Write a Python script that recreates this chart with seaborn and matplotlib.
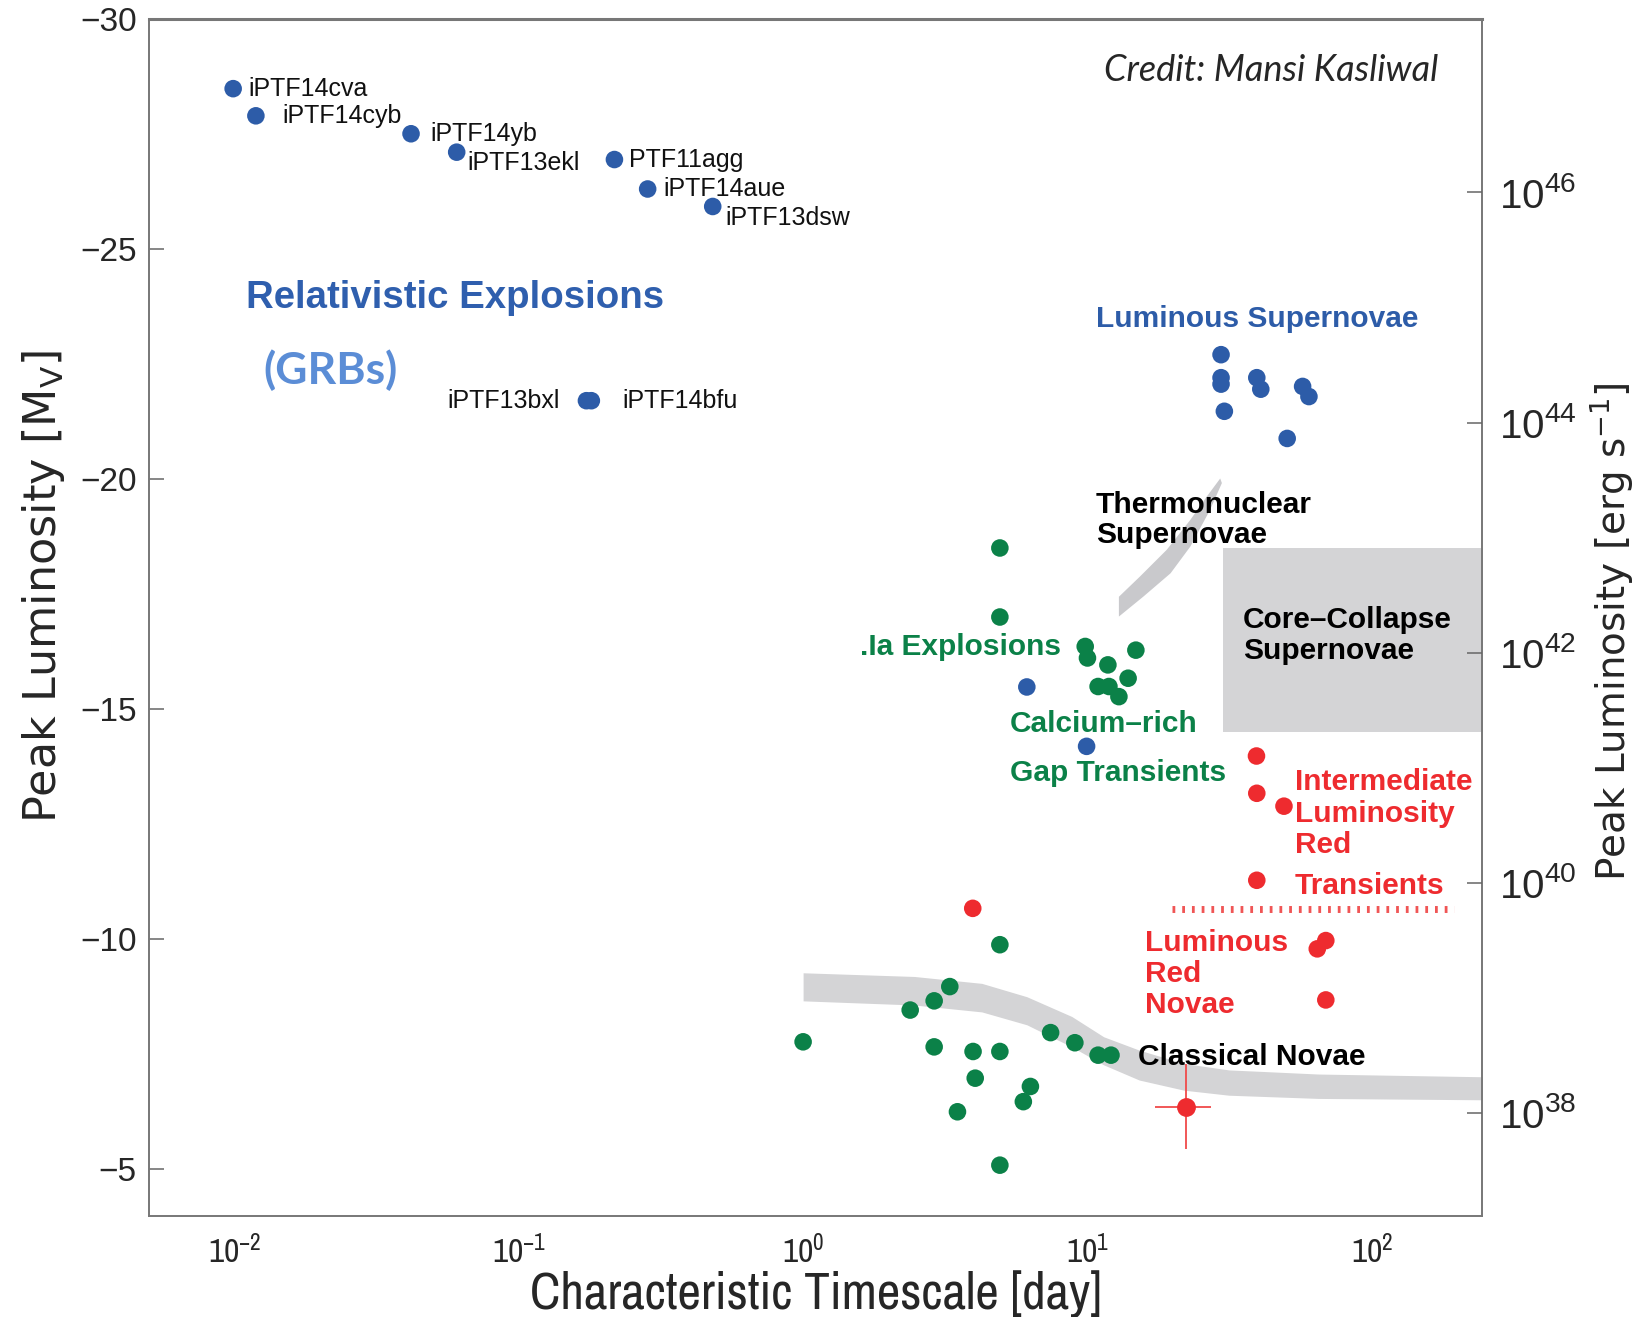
import numpy as np
import pandas as pd
import matplotlib
matplotlib.use("Agg")
import matplotlib.pyplot as plt
import seaborn as sns
from matplotlib.ticker import FixedLocator, NullLocator, FuncFormatter

# ---- values (timescale in days, peak abs. mag M_V) ----
grb_names = ["iPTF14cva", "iPTF14cyb", "iPTF14yb", "iPTF13ekl", "PTF11agg",
             "iPTF14aue", "iPTF13dsw", "iPTF13bxl", "iPTF14bfu"]
grb_t = [0.0099, 0.0119, 0.0418, 0.0605, 0.217, 0.284, 0.481, 0.173, 0.180]
grb_m = [-28.48, -27.89, -27.50, -27.10, -26.94, -26.30, -25.92, -21.70, -21.70]

slsn_t = [29.5, 29.5, 29.5, 30.3, 39.4, 40.7, 57.1, 60.1, 50.4]
slsn_m = [-22.70, -22.20, -22.06, -21.47, -22.20, -21.95, -22.01, -21.79, -20.88]

ca_blue_t = [6.12, 9.93]
ca_blue_m = [-15.48, -14.19]

green_t = [4.92, 4.92, 9.82, 10.0, 11.8, 14.8, 13.9, 10.9, 11.9, 12.9,
           4.92, 1.00, 2.38, 2.89, 3.28, 2.89, 3.96, 4.92, 4.03, 3.49,
           6.30, 5.95, 7.42, 9.03, 10.9, 12.1, 4.92]
green_m = [-18.50, -17.00, -16.36, -16.11, -15.96, -16.28, -15.67, -15.49, -15.49, -15.27,
           -9.88, -7.77, -8.46, -8.66, -8.97, -7.66, -7.56, -7.56, -6.98, -6.25,
           -6.80, -6.47, -7.97, -7.75, -7.48, -7.48, -5.09]

red_t = [39.3, 39.4, 49.1, 39.4, 3.95, 68.9, 64.3, 68.9]
red_m = [-13.98, -13.17, -12.89, -11.28, -10.67, -9.97, -9.79, -8.68]

# classical nova with error bars
nova_t, nova_m = 22.3, -6.36
nova_terr, nova_merr = 5.0, 0.92

# ILRT / LRN separator
sep_t = [19.8, 194]
sep_m = -10.65

# grey regions
ccsn_t = [30, 300]
ccsn_m = [-18.5, -14.5]

ia_up_t = [12.9, 15.3, 19.0, 23.0, 26.3, 29.3]
ia_up_m = [-17.44, -17.88, -18.46, -19.11, -19.62, -20.01]
ia_lo_t = [12.9, 15.7, 19.6, 23.0, 27.0, 29.7]
ia_lo_m = [-17.01, -17.44, -17.95, -18.53, -19.33, -19.91]

cn_t = [1.0, 2.46, 4.25, 6.12, 8.81, 11.4, 15.2, 21.8, 31.4, 64.9, 250]
cn_top = [-9.27, -9.19, -9.04, -8.75, -8.32, -7.88, -7.59, -7.30, -7.16, -7.07, -7.01]
cn_bot = [-8.66, -8.57, -8.42, -8.14, -7.66, -7.27, -6.94, -6.72, -6.61, -6.54, -6.51]

lum_ticks = [1e38, 1e40, 1e42, 1e44, 1e46]

BLUE = "#2d5ca8"
GREEN = "#0b8148"
RED = "#ee2b2f"
GREY = "#d4d4d6"
NARROW = ["Archivo Narrow", "Liberation Sans", "DejaVu Sans"]

sns.set_style("white")
plt.rcParams["font.family"] = ["Liberation Sans", "DejaVu Sans"]
plt.rcParams["mathtext.default"] = "regular"


def mag_to_lum(m):
    return 10 ** (35.51 - 0.4 * np.asarray(m))


pts = pd.DataFrame({
    "t": grb_t + slsn_t + ca_blue_t + green_t + red_t,
    "M": grb_m + slsn_m + ca_blue_m + green_m + red_m,
    "grp": (["blue"] * (len(grb_t) + len(slsn_t) + len(ca_blue_t))
            + ["green"] * len(green_t) + ["red"] * len(red_t)),
})

fig = plt.figure(figsize=(16.37, 13.17), dpi=100)
ax = fig.add_axes([0.0912, 0.0765, 0.8144, 0.9093])

# grey background regions
ax.fill_between(ccsn_t, ccsn_m[0], ccsn_m[1], color=GREY, lw=0, zorder=1)
ax.fill(ia_up_t + ia_lo_t[::-1], ia_up_m + ia_lo_m[::-1], color="#c9c9cc", lw=0, zorder=1)
ax.fill_between(cn_t, cn_top, cn_bot, color=GREY, lw=0, zorder=1)

ax.plot(sep_t, [sep_m, sep_m], color="#f05555", lw=5, dashes=(0.4, 1.0),
        dash_capstyle="butt", zorder=2)

sns.scatterplot(data=pts, x="t", y="M", hue="grp",
                palette={"blue": BLUE, "green": GREEN, "red": RED},
                s=160, linewidth=0, legend=False, ax=ax, zorder=4)

ax.errorbar(nova_t, nova_m, xerr=nova_terr, yerr=nova_merr, fmt="o", ms=12.5,
            color=RED, mec=RED, ecolor="#f04a4a", elinewidth=1.3, capsize=0, zorder=4)

# GRB names
offsets = {"iPTF14cva": (11, 0), "iPTF14cyb": (19, 0), "iPTF14yb": (14, 0),
           "iPTF13ekl": (8, -7.5), "PTF11agg": (10.5, 0), "iPTF14aue": (11, 0),
           "iPTF13dsw": (9, -8.5), "iPTF13bxl": (-19, 0), "iPTF14bfu": (22, 0)}
for name, t, m in zip(grb_names, grb_t, grb_m):
    dx, dy = offsets[name]
    ax.annotate(name, (t, m), xytext=(dx, dy), textcoords="offset points",
                ha="right" if dx < 0 else "left", va="center", fontsize=18,
                color="#111111", zorder=5)

bold = dict(fontweight="bold", fontsize=21.5, zorder=5)
ax.text(0.011, -23.94, "Relativistic Explosions", color="#2f5fae", va="center",
        **{**bold, "fontsize": 27.6})
ax.text(0.0126, -22.36, "(GRBs)", color="#5b8dd6", va="center", fontsize=32,
        fontweight="bold", family=["Lato", "DejaVu Sans"], zorder=5)
ax.text(0.967, 0.957, "Credit: Mansi Kasliwal", transform=ax.transAxes, ha="right",
        va="center", fontsize=26, fontstyle="italic", family=["Lato", "DejaVu Sans"])
ax.text(10.7, -23.47, "Luminous Supernovae", color=BLUE, va="center", **bold)
ax.text(10.7, -19.11, "Thermonuclear\nSupernovae", color="black", va="center",
        linespacing=1.12, **bold)
ax.text(35.2, -16.60, "Core\u2013Collapse\nSupernovae", color="black", va="center",
        linespacing=1.12, **bold)
ax.text(8.07, -16.34, ".Ia Explosions", color=GREEN, va="center", ha="right", **bold)
ax.text(5.33, -14.67, "Calcium\u2013rich", color=GREEN, va="center", **bold)
ax.text(5.33, -13.62, "Gap Transients", color=GREEN, va="center", **bold)
ax.text(53.6, -12.73, "Intermediate\nLuminosity\nRed", color=RED, va="center",
        linespacing=1.14, **bold)
ax.text(53.6, -11.15, "Transients", color=RED, va="center", **bold)
ax.text(16.0, -9.25, "Luminous\nRed\nNovae", color=RED, va="center",
        linespacing=1.14, **bold)
ax.text(15.1, -7.45, "Classical Novae", color="black", va="center", **bold)

# axes
ax.set_xscale("log")
ax.set_xlim(0.00502, 245)
ax.set_ylim(-3.98, -30)
ax.set_yticks([-30, -25, -20, -15, -10, -5])
ax.yaxis.set_minor_locator(NullLocator())
ax.xaxis.set_major_formatter(FuncFormatter(
    lambda v, p: "$\\mathdefault{10^{%d}}$" % int(round(np.log10(v)))))
ax.tick_params(which="both", direction="in", color="#666666", top=False, right=False)
ax.tick_params(which="major", length=11, width=1.1)
ax.tick_params(which="minor", length=6, width=0.9)
ax.tick_params(axis="y", labelsize=24, pad=9)
ax.tick_params(axis="x", labelsize=24, pad=13)
for lab in ax.get_xticklabels():
    lab.set_family(NARROW)
for sp in ax.spines.values():
    sp.set_color("#777777")
    sp.set_linewidth(1.4)
ax.spines["top"].set_linewidth(2.2)

ax.set_xlabel("Characteristic Timescale [day]", fontsize=37, family=NARROW, labelpad=1)
ax.set_ylabel("Peak Luminosity [M$_V$]", fontsize=32, family=["DejaVu Sans"])
ax.yaxis.set_label_coords(-0.062, 0.526)

# right axis: peak luminosity in erg/s
ax2 = ax.twinx()
ax2.set_yscale("log")
ax2.set_ylim(mag_to_lum(-3.98), mag_to_lum(-30))
ax2.yaxis.set_major_locator(FixedLocator(lum_ticks))
ax2.yaxis.set_minor_locator(NullLocator())
ax2.tick_params(direction="in", length=11, width=1.1, color="#666666", labelsize=29, pad=12)
for sp in ax2.spines.values():
    sp.set_visible(False)
ax2.set_ylabel("Peak Luminosity [erg s$^{-1}$]", fontsize=28, family=["DejaVu Sans"])
ax2.yaxis.set_label_coords(1.079, 0.488)

fig.savefig("out.png", dpi=100)
